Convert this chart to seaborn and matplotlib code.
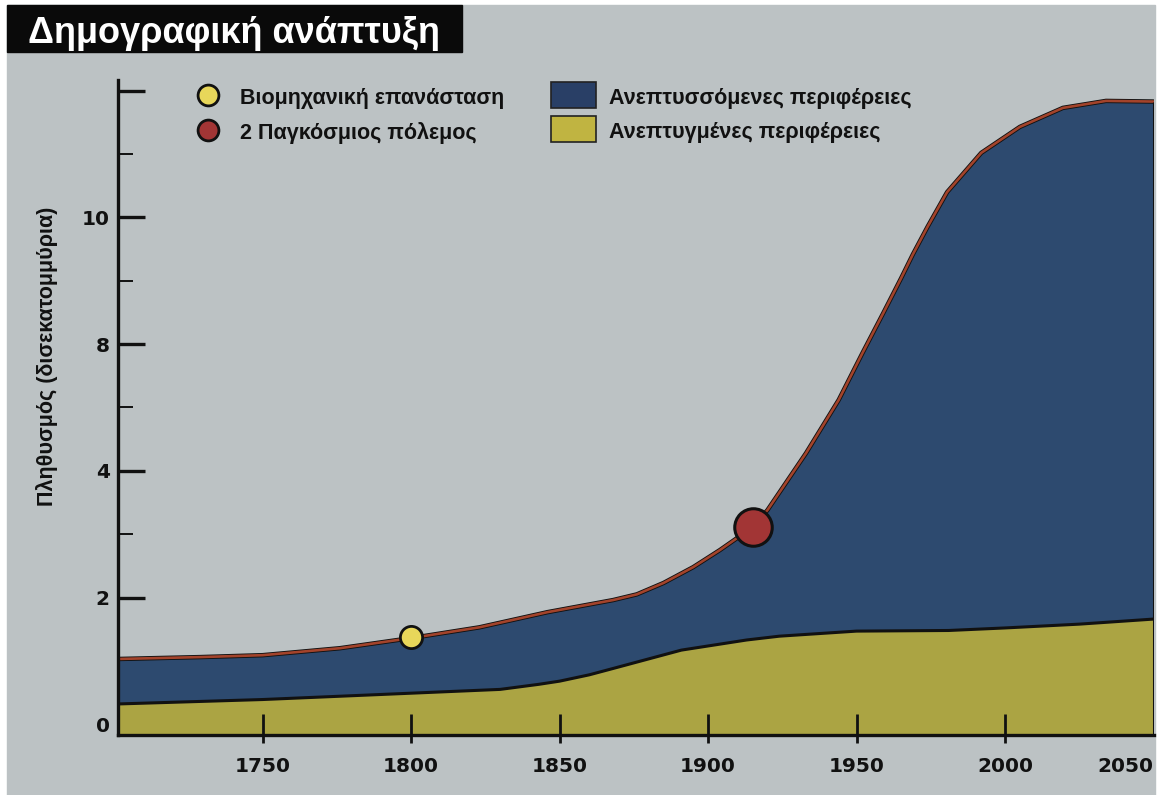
import numpy as np
import matplotlib
matplotlib.use("Agg")
import matplotlib.pyplot as plt
import matplotlib.patches as mpatches
from matplotlib.lines import Line2D
import seaborn as sns
import pandas as pd

# population, billions (upper edge = world total)
years_total = [1701.3, 1729, 1750, 1776, 1800, 1823, 1846, 1868, 1876, 1885, 1895,
               1904, 1915, 1920, 1933, 1944, 1952, 1959, 1965, 1969, 1974, 1980.5,
               1992, 2005, 2019.5, 2034, 2050]
total = [1.03, 1.06, 1.09, 1.20, 1.36, 1.53, 1.77, 1.96, 2.05, 2.23, 2.48,
         2.75, 3.11, 3.38, 4.56, 6.24, 7.72, 8.49, 9.04, 9.42, 9.86, 10.40,
         11.02, 11.43, 11.73, 11.84, 11.83]
# developed regions (lower band)
years_dev = [1701.3, 1750, 1800, 1830, 1843, 1850, 1860, 1868, 1891, 1913, 1924,
             1950, 1981, 2000, 2025, 2050]
developed = [0.32, 0.39, 0.49, 0.55, 0.63, 0.68, 0.78, 0.88, 1.17, 1.33, 1.39,
             1.47, 1.48, 1.52, 1.58, 1.66]

event_years = [1800, 1915]
event_values = [1.37, 3.11]
event_labels = ["Βιομηχανική επανάσταση", "2 Παγκόσμιος πόλεμος"]
region_labels = ["Ανεπτυσσόμενες περιφέρειες", "Ανεπτυγμένες περιφέρειες"]

x_ticks = [1750, 1800, 1850, 1900, 1950, 2000, 2050]
y_major = [0, 2, 4, 8, 10, 12]
y_major_labels = ["0", "2", "4", "8", "10", ""]
y_minor = [1, 3, 6, 9, 11]

# the chart's y axis is not linear: equal steps for 0-2-4-8-10-12
val_knots = [-10, 0, 2, 4, 8, 10, 12, 102]
pos_knots = [-10, 0, 2, 4, 6, 8, 10, 100]

BG = "#bcc2c4"
BLUE = "#2d4a6f"
GOLD = "#aba443"
RED_LINE = "#a3432b"
W, H = 1157, 795

sns.set_theme(style="white")
plt.rcParams["font.family"] = ["DejaVu Sans"]
NARROW = ["Liberation Sans Narrow", "Liberation Sans", "DejaVu Sans"]


def px(x, y):
    return x / W, 1 - y / H


fig = plt.figure(figsize=(W / 100, H / 100), dpi=100, facecolor="white")
fig.patches.append(mpatches.Rectangle(px(7, 795), (1155 - 7) / W, (795 - 5) / H,
                                      transform=fig.transFigure, color=BG, zorder=-5))

ax = fig.add_axes([118 / W, (795 - 735) / H, (1153.5 - 118) / W, (735 - 80) / H])
ax.set_facecolor("none")
ax.set_yscale("function", functions=(lambda v: np.interp(v, val_knots, pos_knots),
                                     lambda p: np.interp(p, pos_knots, val_knots)))
ybot = -0.17
ax.set_xlim(years_total[0], 2050)
ax.set_ylim(ybot, 12.17)

# areas
ax.fill_between(years_total, total, ybot, color=BLUE, lw=0, zorder=3)
ax.fill_between(years_dev, developed, ybot, color=GOLD, lw=0, zorder=3)

df_dev = pd.DataFrame({"year": years_dev, "pop": developed})
df_tot = pd.DataFrame({"year": years_total, "pop": total})
sns.lineplot(data=df_dev, x="year", y="pop", color="#111111", lw=2.2, ax=ax, zorder=4)
sns.lineplot(data=df_tot, x="year", y="pop", color="#111111", lw=3.2, ax=ax, zorder=4)
sns.lineplot(data=df_tot, x="year", y="pop", color=RED_LINE, lw=1.9, ax=ax, zorder=4)
ax.vlines(years_total[-1], ybot, total[-1], color="#111111", lw=2.2, zorder=4)

# event markers
ax.plot(event_years[0], event_values[0], "o", ms=16, mfc="#e8d75a", mec="#111111",
        mew=2, zorder=6)
ax.plot(event_years[1], event_values[1], "o", ms=27, mfc="#a23535", mec="#111111",
        mew=2.2, zorder=6)

# axes styling
for s in ["top", "right"]:
    ax.spines[s].set_visible(False)
for s in ["left", "bottom"]:
    ax.spines[s].set_color("#111111")
    ax.spines[s].set_linewidth(2.4)
    ax.spines[s].set_zorder(5)

ax.set_xticks(x_ticks)
ax.set_xticklabels([str(t) for t in x_ticks])
# short outward stubs under the inward x ticks
ax.xaxis.remove_overlapping_locs = False
ax.set_xticks(x_ticks[:-1], minor=True)
ax.set_yticks(y_major)
ax.set_yticklabels(y_major_labels)
ax.set_yticks(y_minor, minor=True)
ax.xaxis.set_zorder(5)
ax.yaxis.set_zorder(2)
ax.tick_params(axis="x", which="major", direction="in", length=15, width=2,
               color="#111111", pad=16, labelsize=14.5, bottom=True)
ax.tick_params(axis="x", which="minor", direction="out", length=6, width=2,
               color="#111111", bottom=True)
ax.tick_params(axis="y", which="major", direction="in", length=19.5, width=2.4,
               color="#111111", pad=6, labelsize=14.5, left=True)
ax.tick_params(axis="y", which="minor", direction="in", length=11, width=1.4,
               color="#111111", left=True)
for lab in ax.get_xticklabels() + ax.get_yticklabels():
    lab.set_fontweight("bold")
    lab.set_color("#111111")
ax.get_xticklabels()[-1].set_horizontalalignment("right")
ax.xaxis.get_major_ticks()[-1].tick1line.set_visible(False)
ax.set_xlabel("")
ax.set_ylabel("")

fig.text(*px(47, 356), "Πληθυσμός (δισεκατομμύρια)", rotation=90, ha="center",
         va="center", fontsize=15.5, fontweight="bold", family=NARROW, color="#111111")

# title block
fig.patches.append(mpatches.Rectangle(px(7, 52), (462 - 7) / W, (52 - 5) / H,
                                      transform=fig.transFigure, color="#0a0a0a", zorder=1))
fig.text(*px(28, 43), "Δημογραφική ανάπτυξη", color="white", fontsize=26,
         fontweight="bold", family=["Liberation Sans", "DejaVu Sans"], va="baseline")

# legend
fig.add_artist(Line2D([208 / W], [1 - 95 / H], marker="o", ms=15, mfc="#e8d75a",
                      mec="#111111", mew=2, transform=fig.transFigure))
fig.add_artist(Line2D([208 / W], [1 - 130 / H], marker="o", ms=15, mfc="#a23535",
                      mec="#111111", mew=2, transform=fig.transFigure))
for i, lab in enumerate(event_labels):
    fig.text(*px(240, 104 + 35 * i), lab, fontsize=15.5, fontweight="bold",
             family=NARROW, color="#111111", va="baseline")
for i, (lab, col) in enumerate(zip(region_labels, ["#293f66", "#c0b441"])):
    fig.patches.append(mpatches.Rectangle(px(551, 108 + 34 * i), 45 / W, 26 / H,
                                          transform=fig.transFigure, facecolor=col,
                                          edgecolor="#222222", lw=1.2))
    fig.text(*px(609, 104 + 34 * i), lab, fontsize=15.5, fontweight="bold",
             family=NARROW, color="#111111", va="baseline")

fig.savefig("out.png", dpi=100, facecolor="white")
